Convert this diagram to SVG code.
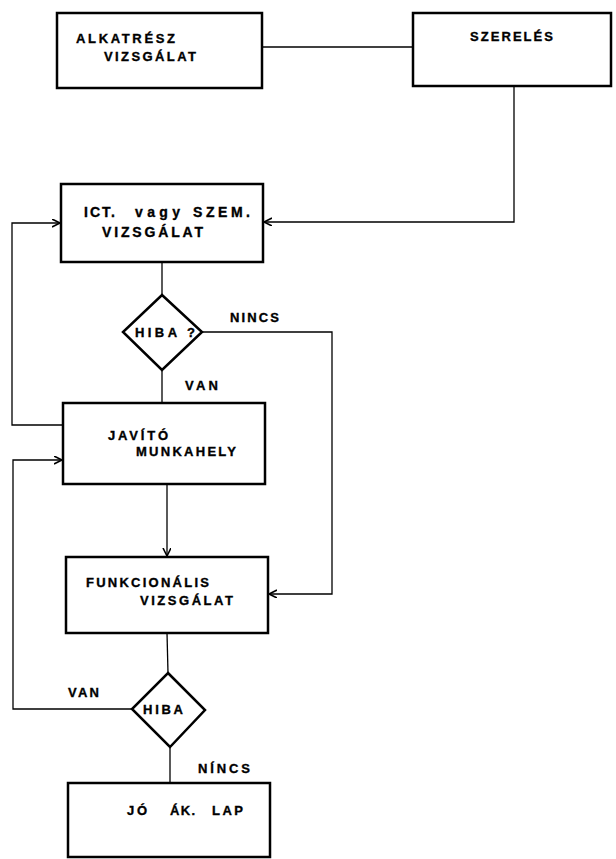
<svg xmlns="http://www.w3.org/2000/svg" width="616" height="859" viewBox="0 0 616 859">
<style>
.box{fill:#fff;stroke:#000;stroke-width:2.5}
.dia{fill:#fff;stroke:#000;stroke-width:2.5;stroke-linejoin:miter}
.con{fill:none;stroke:#000;stroke-width:1.3}
text{font-family:"Liberation Sans",Arial,sans-serif;font-weight:bold;font-size:13px;fill:#000;stroke:#000;stroke-width:0.35}
.big{font-size:14px}
</style>
<defs>
<marker id="arr" markerWidth="10" markerHeight="10" refX="8" refY="4" orient="auto" markerUnits="userSpaceOnUse">
<path d="M0,0 L8,4 L0,8" fill="none" stroke="#000" stroke-width="1.6"/>
</marker>
</defs>
<rect width="616" height="859" fill="#fff"/>
<g id="connectors">
<path class="con" d="M262,47 L413,47"/>
<path class="con" d="M514,87 L514,222 L264,222" marker-end="url(#arr)"/>
<path class="con" d="M162,262 L162,295"/>
<path class="con" d="M202,332 L332,332 L332,594 L269,594" marker-end="url(#arr)"/>
<path class="con" d="M162,370 L162,403"/>
<path class="con" d="M63,425 L12,425 L12,223 L60,223" marker-end="url(#arr)"/>
<path class="con" d="M167,484 L167,556" marker-end="url(#arr)"/>
<path class="con" d="M132,709 L13,709 L13,460 L62,460" marker-end="url(#arr)"/>
<path class="con" d="M167,633 L168,673"/>
<path class="con" d="M170,747 L170,783"/>
</g>
<g id="alkatresz">
<rect class="box" x="57" y="13" width="205" height="75"/>
<text x="76" y="43" textLength="99" lengthAdjust="spacing">ALKATRÉSZ</text>
<text x="104" y="61" textLength="92" lengthAdjust="spacing">VIZSGÁLAT</text>
</g>
<g id="szereles">
<rect class="box" x="413" y="13" width="198" height="73"/>
<text x="470" y="41" textLength="83" lengthAdjust="spacing">SZERELÉS</text>
</g>
<g id="ict">
<rect class="box" x="61" y="184" width="202" height="78"/>
<text class="big" x="84" y="217" textLength="31" lengthAdjust="spacing">ICT.</text>
<text class="big" x="135" y="217" textLength="45" lengthAdjust="spacing">vagy</text>
<text class="big" x="193" y="217" textLength="57" lengthAdjust="spacing">SZEM.</text>
<text class="big" x="102" y="237" textLength="101" lengthAdjust="spacing">VIZSGÁLAT</text>
</g>
<g id="hiba1">
<polygon class="dia" points="162,295 202,332 162,370 123,332"/>
<text x="135" y="337" textLength="60" lengthAdjust="spacing">HIBA ?</text>
</g>
<g id="label-nincs1"><text x="230" y="322" textLength="49" lengthAdjust="spacing">NINCS</text></g>
<g id="label-van1"><text x="185" y="390" textLength="33" lengthAdjust="spacing">VAN</text></g>
<g id="javito">
<rect class="box" x="63" y="403" width="202" height="81"/>
<text x="108" y="440" textLength="60" lengthAdjust="spacing">JAVÍTÓ</text>
<text x="136" y="456" textLength="100" lengthAdjust="spacing">MUNKAHELY</text>
</g>
<g id="funkcionalis">
<rect class="box" x="66" y="557" width="202" height="76"/>
<text x="86" y="587" textLength="123" lengthAdjust="spacing">FUNKCIONÁLIS</text>
<text x="140" y="605" textLength="93" lengthAdjust="spacing">VIZSGÁLAT</text>
</g>
<g id="hiba2">
<polygon class="dia" points="168,673 205,710 170,747 132,709"/>
<text x="143" y="714" textLength="40" lengthAdjust="spacing">HIBA</text>
</g>
<g id="label-van2"><text x="68" y="697" textLength="31" lengthAdjust="spacing">VAN</text></g>
<g id="label-nincs2"><text x="198" y="773" textLength="52" lengthAdjust="spacing">NÍNCS</text></g>
<g id="jo">
<rect class="box" x="68" y="783" width="202" height="74"/>
<text x="127" y="815" textLength="20" lengthAdjust="spacing">JÓ</text>
<text x="170" y="815" textLength="25" lengthAdjust="spacing">ÁK.</text>
<text x="212" y="815" textLength="31" lengthAdjust="spacing">LAP</text>
</g>
</svg>
